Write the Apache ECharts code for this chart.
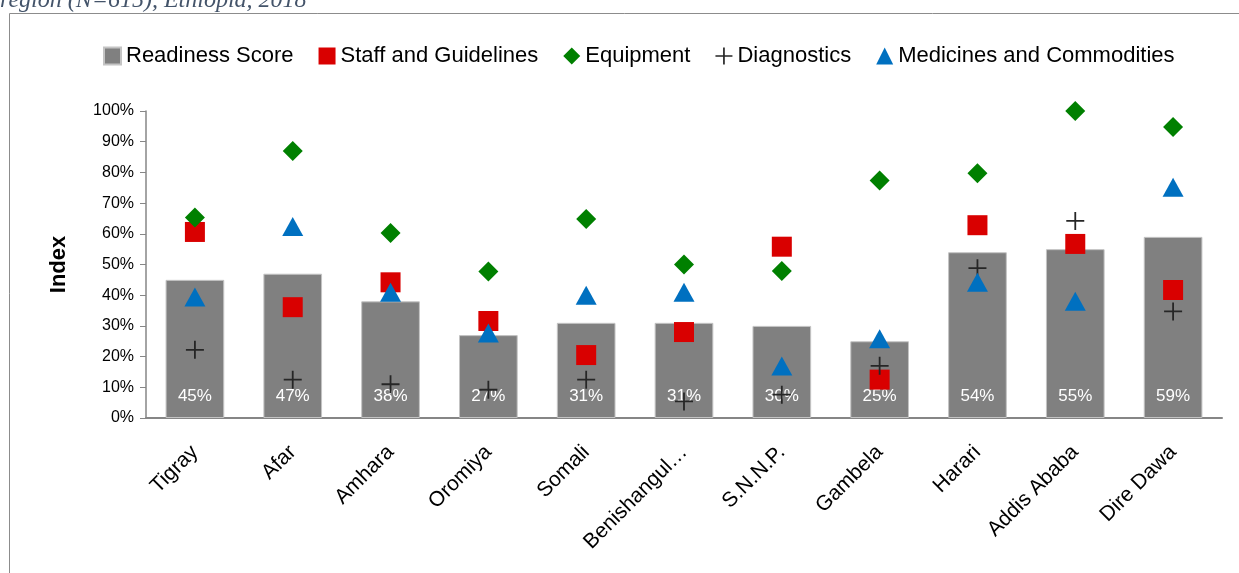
<!DOCTYPE html>
<html>
<head>
<meta charset="utf-8">
<script src="https://cdn.jsdelivr.net/npm/echarts@6/dist/echarts.min.js"></script>
<style>
  html, body { margin: 0; padding: 0; background: #fff; }
  #chart { width: 1239px; height: 573px; }
</style>
</head>
<body>
<div id="chart"></div>
<script>
const regions = ["Tigray", "Afar", "Amhara", "Oromiya", "Somali", "Benishangul…", "S.N.N.P.", "Gambela", "Harari", "Addis Ababa", "Dire Dawa"];
const readiness = [45, 47, 38, 27, 31, 31, 30, 25, 54, 55, 59];
const staff = [60.6, 36.1, 44.2, 31.6, 20.5, 28, 55.8, 12.5, 62.8, 56.7, 41.7];
const equipment = [65.3, 87, 60.3, 47.7, 64.8, 50, 47.9, 77.4, 79.7, 100, 94.8];
const diagnostics = [22.2, 12.5, 11, 9.2, 12.5, 5.4, 7.6, 17, 48.8, 64.2, 34.7];
const medicines = [39.4, 62.4, 41, 27.7, 40, 41, 16.9, 25.8, 44.2, 38, 75.2];

const plusPath = "path://M9,0h2v9h9v2h-9v9h-2v-9h-9v-2h9z";
const font = "Liberation Sans";

const chart = echarts.init(document.getElementById("chart"));

function markerSeries(name, data, symbol, size, color) {
  return {
    name,
    type: "scatter",
    data,
    symbol,
    symbolSize: size,
    itemStyle: { color, opacity: 1 },
    emphasis: { disabled: true },
  };
}

chart.setOption({
  animation: false,
  textStyle: { fontFamily: font },
  graphic: [
    {
      type: "rect",
      shape: { x: 9.5, y: 13.5, width: 1240, height: 580 },
      style: { fill: "none", stroke: "#8c8c8c", lineWidth: 1 },
      silent: true,
    },
    {
      type: "text",
      x: 0,
      y: 13,
      style: {
        text: "region (N=615), Ethiopia, 2018",
        font: "italic 24px 'Liberation Serif'",
        fill: "#44546a",
        verticalAlign: "bottom",
      },
      silent: true,
    },
  ],
  legend: {
    top: 40,
    left: 98,
    itemWidth: 17,
    itemHeight: 17,
    itemGap: 25,
    textStyle: { fontSize: 22, color: "#000", fontFamily: font },
    data: [
      { name: "Readiness Score", icon: "rect", itemStyle: { color: "#808080" } },
      "Staff and Guidelines",
      "Equipment",
      "Diagnostics",
      "Medicines and Commodities",
    ],
  },
  grid: { left: 146, right: 17, top: 111, bottom: 155 },
  xAxis: {
    type: "category",
    data: regions,
    axisLine: { lineStyle: { color: "#868686", width: 2 } },
    axisTick: { show: false },
    axisLabel: { rotate: 45, fontSize: 21, color: "#000", margin: 31, interval: 0 },
  },
  yAxis: {
    type: "value",
    min: 0,
    max: 100,
    interval: 10,
    name: "Index",
    nameLocation: "middle",
    nameRotate: 90,
    nameGap: 76,
    nameTextStyle: { fontSize: 22, fontWeight: "bold", color: "#000" },
    splitLine: { show: false },
    axisLine: { show: true, lineStyle: { color: "#868686", width: 1.5 } },
    axisTick: { show: true, length: 6, lineStyle: { color: "#868686" } },
    axisLabel: { fontSize: 16, color: "#000", margin: 12, formatter: "{value}%" },
  },
  series: [
    {
      name: "Readiness Score",
      type: "bar",
      data: readiness,
      barWidth: "60%",
      itemStyle: { color: "#808080", borderColor: "#c4c4c4", borderWidth: 1 },
      label: {
        show: true,
        position: "insideBottom",
        distance: 13,
        fontSize: 17,
        color: "#fff",
        formatter: "{c}%",
      },
      emphasis: { disabled: true },
    },
    markerSeries("Staff and Guidelines", staff, "rect", 20, "#d90000"),
    markerSeries("Equipment", equipment, "diamond", [20, 20], "#008000"),
    markerSeries("Diagnostics", diagnostics, plusPath, 18, "#262626"),
    markerSeries("Medicines and Commodities", medicines, "triangle", [21, 19], "#0070c0"),
  ],
});
</script>
</body>
</html>
